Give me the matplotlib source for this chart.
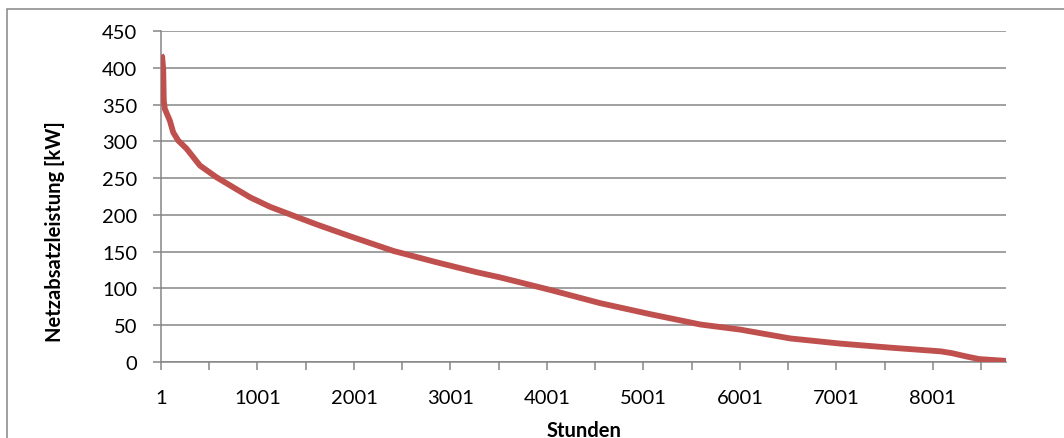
import matplotlib.pyplot as plt
from matplotlib.patches import Rectangle
from matplotlib.ticker import FixedLocator

# --- Daten: Jahresdauerlinie ---
stunden = [1, 13, 24, 30, 41, 93, 128, 180, 266, 405, 578, 750, 923, 1131,
           1372, 1615, 1960, 2410, 2860, 3275, 3517, 4035, 4554, 5073, 5591,
           6006, 6525, 7044, 7562, 8081, 8200, 8350, 8480, 8760]
leistung = [417, 415, 398, 355, 344, 328, 312, 301, 290, 267, 251, 237.5, 224, 211,
            199, 187, 171, 151, 135.5, 122, 115, 98, 80, 65, 51,
            44, 32, 25, 19.5, 14.5, 12, 7.5, 4, 1.5]

y_ticks = [0, 50, 100, 150, 200, 250, 300, 350, 400, 450]
x_labels = ['1', '1001', '2001', '3001', '4001', '5001', '6001', '7001', '8001']

GRID = '#868686'
plt.rcParams['font.family'] = ['Lato', 'DejaVu Sans']

fig = plt.figure(figsize=(10.64, 4.39), dpi=100)
ax = fig.add_axes([161/1064, 1 - 363/439, (1006 - 161)/1064, (363 - 32)/439])

ax.plot(stunden, leistung, color='#C0504D', lw=4.2, solid_capstyle='butt',
        solid_joinstyle='round', zorder=3)

ax.set_xlim(1, 8760)
ax.set_ylim(0, 450)
ax.set_yticks(y_ticks)
ax.yaxis.grid(True, color=GRID, lw=1.1)
ax.set_axisbelow(True)

# Kategorieachse: Striche alle 500 h, Beschriftung alle 1000 h
ax.xaxis.set_major_locator(FixedLocator(list(range(1, 8761, 1000))))
ax.xaxis.set_minor_locator(FixedLocator(list(range(501, 8761, 1000))))
ax.set_xticklabels(x_labels)

for s in ['top', 'right']:
    ax.spines[s].set_visible(False)
for s in ['left', 'bottom']:
    ax.spines[s].set_color(GRID)
    ax.spines[s].set_linewidth(1.1)

ax.tick_params(axis='y', which='major', direction='out', length=6, width=1.1,
               color=GRID, labelsize=14.5, pad=11, labelcolor='black')
ax.tick_params(axis='x', which='both', direction='out', length=5.5, width=1.1,
               color=GRID, labelsize=14.5, pad=14, labelcolor='black')

fig.text(55/1064, 1 - 232/439, 'Netzabsatzleistung [kW]', rotation=90,
         ha='center', va='center', fontsize=14.5, fontweight='bold')
fig.text(584/1064, 1 - 431/439, 'Stunden', ha='center', va='center',
         fontsize=14.5, fontweight='bold')

# Rahmen des Diagrammbereichs
fig.patches.append(Rectangle((7/1064, -0.05), 1.2, 1 - 10/439 + 0.05,
                             transform=fig.transFigure, fill=False,
                             edgecolor=GRID, lw=1.1))

plt.savefig('out.png', dpi=100)
